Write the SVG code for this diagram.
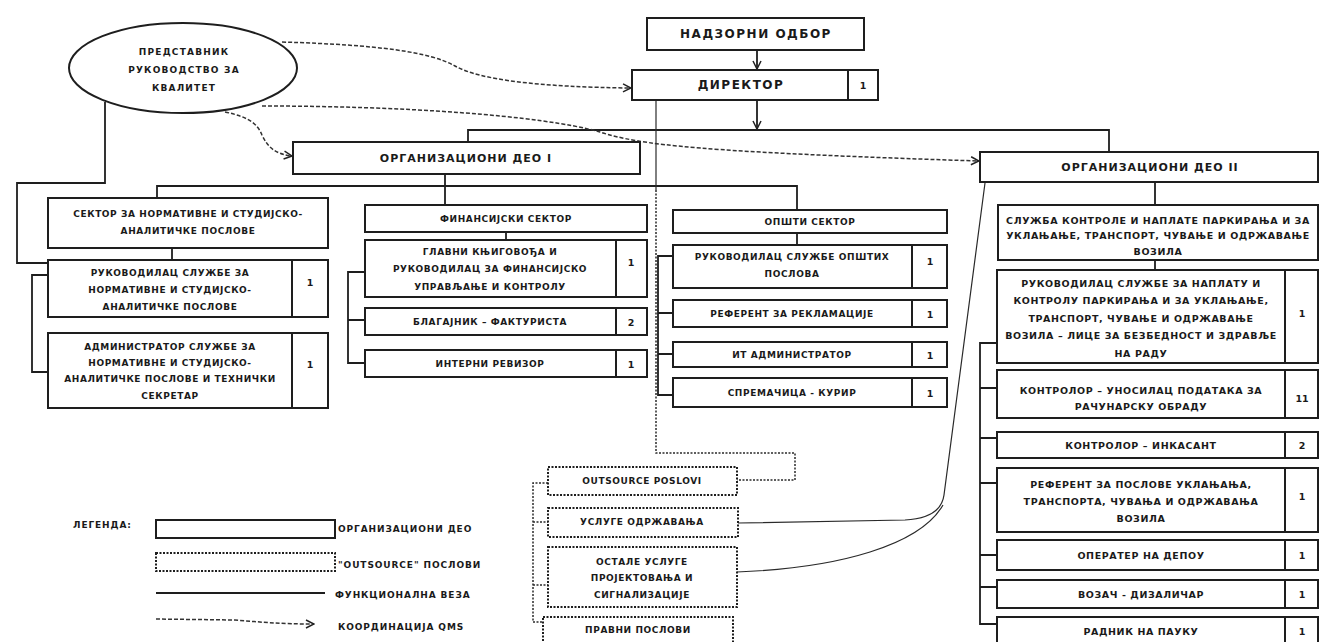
<svg xmlns="http://www.w3.org/2000/svg" width="1324" height="642" viewBox="0 0 1324 642">
<defs>
<style>
.box{fill:#fff;stroke:#1e1e1e;stroke-width:2}
.obox{fill:#fff;stroke:#1e1e1e;stroke-width:2;stroke-dasharray:2 1.5}
.ln{fill:none;stroke:#1e1e1e;stroke-width:1.8}
.thin{fill:none;stroke:#2a2a2a;stroke-width:1.2}
.dot{fill:none;stroke:#2a2a2a;stroke-width:1.5;stroke-dasharray:2 1.5}
.qms{fill:none;stroke:#333;stroke-width:1.5;stroke-dasharray:4 2;marker-end:url(#arr)}
.div{stroke:#1e1e1e;stroke-width:2}
text{font-family:"DejaVu Sans","Liberation Sans",sans-serif;font-weight:bold;fill:#1a1a1a;text-anchor:middle;dominant-baseline:central}
.h{font-size:11px;letter-spacing:1px}
.hb{font-size:12px;letter-spacing:1.5px}
.t{font-size:9px;letter-spacing:0.6px}
.te{font-size:9px;letter-spacing:1.2px}
.tr{font-size:9.5px;letter-spacing:0.6px}
.n{font-size:9.5px}
.lg{font-size:9px;letter-spacing:0.9px;text-anchor:start}
</style>
<marker id="arr" viewBox="0 0 10 10" refX="9" refY="5" markerWidth="10" markerHeight="10" markerUnits="userSpaceOnUse" orient="auto">
<path d="M1,1 L9,5 L1,9" fill="none" stroke="#222" stroke-width="1.5"/>
</marker>
</defs>
<rect width="1324" height="642" fill="#fff"/>

<g id="connectors">
<path class="ln" d="M757,50 V69" marker-end="url(#arr)"/>
<path class="ln" d="M757,100 V129" marker-end="url(#arr)"/>
<path class="ln" d="M468,142 V130 H1109 V152"/>
<path class="ln" d="M105,102 V183 H17 V263 H48"/>
<path class="ln" d="M157,198 V186 H797 V210"/>
<path class="ln" d="M445,174 V205"/>
<path class="ln" d="M172,248 V260"/>
<path class="ln" d="M48,275 H32 V372 H48"/>
<path class="ln" d="M506,232 V240"/>
<path class="ln" d="M365,272 H348 V363 H365 M348,320 H365"/>
<path class="ln" d="M797,233 V245"/>
<path class="ln" d="M673,256 H658 V395 H673 M658,313 H673 M658,354 H673"/>
<path class="ln" d="M1155,182 V205 M1155,260 V270"/>
<path class="ln" d="M997,343 H980 V624 H997 M980,388 H997 M980,438 H997 M980,483 H997 M980,555 H997 M980,587 H997"/>
<path class="thin" d="M656,100 V190"/>
<path class="dot" d="M656,190 V453 H795 V480 H737"/>
<path class="dot" d="M548,483 H533 V622 H543 M533,522 H548 M533,585 H548"/>
<path class="thin" d="M985,183 L944,495 Q941,518 905,520 L738,523"/>
<path class="thin" d="M737,572 C840,568 920,545 943,505"/>
<path class="qms" d="M282,42 C380,45 430,52 455,66 C480,80 540,87 631,88"/>
<path class="qms" d="M262,106 C400,106 540,115 600,132 C640,145 700,152 979,161"/>
<path class="qms" d="M225,112 C250,117 258,125 262,135 C268,148 276,154 292,156"/>
</g>

<g id="predstavnik">
<ellipse cx="183" cy="68" rx="114" ry="45" fill="#fff" stroke="#1e1e1e" stroke-width="2"/>
<text class="te" x="184" y="52">ПРЕДСТАВНИК</text>
<text class="te" x="184" y="70">РУКОВОДСТВО ЗА</text>
<text class="te" x="184" y="88">КВАЛИТЕТ</text>
</g>

<g id="nadzorni-odbor">
<rect class="box" x="647" y="18" width="217" height="32"/>
<text class="hb" x="756" y="34">НАДЗОРНИ ОДБОР</text>
</g>

<g id="direktor">
<rect class="box" x="632" y="70" width="246" height="30"/>
<line class="div" x1="848" y1="70" x2="848" y2="100"/>
<text class="hb" x="741" y="85">ДИРЕКТОР</text>
<text class="n" x="863" y="85">1</text>
</g>

<g id="org-deo-1">
<rect class="box" x="293" y="142" width="347" height="32"/>
<text class="h" x="466" y="158">ОРГАНИЗАЦИОНИ ДЕО I</text>
</g>

<g id="org-deo-2">
<rect class="box" x="980" y="152" width="338" height="30"/>
<text class="h" x="1150" y="167">ОРГАНИЗАЦИОНИ ДЕО II</text>
</g>

<g id="sektor-normativne">
<rect class="box" x="48" y="198" width="280" height="50"/>
<text class="t" x="188" y="214">СЕКТОР ЗА НОРМАТИВНЕ И СТУДИЈСКО-</text>
<text class="t" x="188" y="231">АНАЛИТИЧКЕ ПОСЛОВЕ</text>
</g>

<g id="rukovodilac-normativne">
<rect class="box" x="48" y="260" width="280" height="57"/>
<line class="div" x1="292" y1="260" x2="292" y2="317"/>
<text class="t" x="170" y="273">РУКОВОДИЛАЦ СЛУЖБЕ ЗА</text>
<text class="t" x="170" y="290">НОРМАТИВНЕ И СТУДИЈСКО-</text>
<text class="t" x="170" y="307">АНАЛИТИЧКЕ ПОСЛОВЕ</text>
<text class="n" x="310" y="282">1</text>
</g>

<g id="administrator-normativne">
<rect class="box" x="48" y="333" width="280" height="75"/>
<line class="div" x1="292" y1="333" x2="292" y2="408"/>
<text class="t" x="170" y="347">АДМИНИСТРАТОР СЛУЖБЕ ЗА</text>
<text class="t" x="170" y="363">НОРМАТИВНЕ И СТУДИЈСКО-</text>
<text class="t" x="170" y="379">АНАЛИТИЧКЕ ПОСЛОВЕ И ТЕХНИЧКИ</text>
<text class="t" x="170" y="396">СЕКРЕТАР</text>
<text class="n" x="310" y="364">1</text>
</g>

<g id="finansijski-sektor">
<rect class="box" x="365" y="205" width="282" height="27"/>
<text class="t" x="506" y="219">ФИНАНСИЈСКИ СЕКТОР</text>
</g>

<g id="glavni-knjigovodja">
<rect class="box" x="365" y="240" width="282" height="57"/>
<line class="div" x1="616" y1="240" x2="616" y2="297"/>
<text class="t" x="490" y="252">ГЛАВНИ КЊИГОВОЂА И</text>
<text class="t" x="490" y="269">РУКОВОДИЛАЦ ЗА ФИНАНСИЈСКО</text>
<text class="t" x="490" y="287">УПРАВЉАЊЕ И КОНТРОЛУ</text>
<text class="n" x="631" y="262">1</text>
</g>

<g id="blagajnik">
<rect class="box" x="365" y="308" width="282" height="27"/>
<line class="div" x1="616" y1="308" x2="616" y2="335"/>
<text class="t" x="490" y="322">БЛАГАЈНИК – ФАКТУРИСТА</text>
<text class="n" x="631" y="322">2</text>
</g>

<g id="interni-revizor">
<rect class="box" x="365" y="350" width="282" height="27"/>
<line class="div" x1="616" y1="350" x2="616" y2="377"/>
<text class="t" x="490" y="364">ИНТЕРНИ РЕВИЗОР</text>
<text class="n" x="631" y="364">1</text>
</g>

<g id="opsti-sektor">
<rect class="box" x="673" y="210" width="274" height="23"/>
<text class="t" x="810" y="222">ОПШТИ СЕКТОР</text>
</g>

<g id="rukovodilac-opstih">
<rect class="box" x="673" y="245" width="274" height="43"/>
<line class="div" x1="912" y1="245" x2="912" y2="288"/>
<text class="t" x="792" y="257">РУКОВОДИЛАЦ СЛУЖБЕ ОПШТИХ</text>
<text class="t" x="792" y="274">ПОСЛОВА</text>
<text class="n" x="930" y="261">1</text>
</g>

<g id="referent-reklamacije">
<rect class="box" x="673" y="300" width="274" height="27"/>
<line class="div" x1="912" y1="300" x2="912" y2="327"/>
<text class="t" x="792" y="314">РЕФЕРЕНТ ЗА РЕКЛАМАЦИЈЕ</text>
<text class="n" x="930" y="314">1</text>
</g>

<g id="it-administrator">
<rect class="box" x="673" y="342" width="274" height="25"/>
<line class="div" x1="912" y1="342" x2="912" y2="367"/>
<text class="t" x="792" y="355">ИТ АДМИНИСТРАТОР</text>
<text class="n" x="930" y="355">1</text>
</g>

<g id="spremacica">
<rect class="box" x="673" y="378" width="274" height="29"/>
<line class="div" x1="912" y1="378" x2="912" y2="407"/>
<text class="t" x="792" y="393">СПРЕМАЧИЦА - КУРИР</text>
<text class="n" x="930" y="393">1</text>
</g>

<g id="sluzba-kontrole">
<rect class="box" x="998" y="205" width="320" height="55"/>
<text class="tr" x="1158" y="220">СЛУЖБА КОНТРОЛЕ И НАПЛАТЕ ПАРКИРАЊА И ЗА</text>
<text class="tr" x="1158" y="235">УКЛАЊАЊЕ, ТРАНСПОРТ, ЧУВАЊЕ И ОДРЖАВАЊЕ</text>
<text class="tr" x="1158" y="251">ВОЗИЛА</text>
</g>

<g id="rukovodilac-sluzbe">
<rect class="box" x="997" y="270" width="321" height="93"/>
<line class="div" x1="1285" y1="270" x2="1285" y2="363"/>
<text class="tr" x="1141" y="283">РУКОВОДИЛАЦ СЛУЖБЕ ЗА НАПЛАТУ И</text>
<text class="tr" x="1141" y="300">КОНТРОЛУ ПАРКИРАЊА И ЗА УКЛАЊАЊЕ,</text>
<text class="tr" x="1141" y="318">ТРАНСПОРТ, ЧУВАЊЕ И ОДРЖАВАЊЕ</text>
<text class="tr" x="1141" y="335">ВОЗИЛА – ЛИЦЕ ЗА БЕЗБЕДНОСТ И ЗДРАВЉЕ</text>
<text class="tr" x="1141" y="353">НА РАДУ</text>
<text class="n" x="1302" y="313">1</text>
</g>

<g id="kontrolor-unosilac">
<rect class="box" x="997" y="370" width="321" height="48"/>
<line class="div" x1="1285" y1="370" x2="1285" y2="418"/>
<text class="tr" x="1141" y="390">КОНТРОЛОР – УНОСИЛАЦ ПОДАТАКА ЗА</text>
<text class="tr" x="1141" y="406">РАЧУНАРСКУ ОБРАДУ</text>
<text class="n" x="1302" y="398">11</text>
</g>

<g id="kontrolor-inkasant">
<rect class="box" x="997" y="432" width="321" height="26"/>
<line class="div" x1="1285" y1="432" x2="1285" y2="458"/>
<text class="tr" x="1141" y="445">КОНТРОЛОР – ИНКАСАНТ</text>
<text class="n" x="1302" y="445">2</text>
</g>

<g id="referent-uklanjanja">
<rect class="box" x="997" y="468" width="321" height="64"/>
<line class="div" x1="1285" y1="468" x2="1285" y2="532"/>
<text class="tr" x="1141" y="484">РЕФЕРЕНТ ЗА ПОСЛОВЕ УКЛАЊАЊА,</text>
<text class="tr" x="1141" y="501">ТРАНСПОРТА, ЧУВАЊА И ОДРЖАВАЊА</text>
<text class="tr" x="1141" y="518">ВОЗИЛА</text>
<text class="n" x="1302" y="496">1</text>
</g>

<g id="operater">
<rect class="box" x="997" y="540" width="321" height="30"/>
<line class="div" x1="1285" y1="540" x2="1285" y2="570"/>
<text class="tr" x="1141" y="555">ОПЕРАТЕР НА ДЕПОУ</text>
<text class="n" x="1302" y="555">1</text>
</g>

<g id="vozac">
<rect class="box" x="997" y="580" width="321" height="28"/>
<line class="div" x1="1285" y1="580" x2="1285" y2="608"/>
<text class="tr" x="1141" y="594">ВОЗАЧ - ДИЗАЛИЧАР</text>
<text class="n" x="1302" y="594">1</text>
</g>

<g id="radnik">
<rect class="box" x="997" y="617" width="321" height="32"/>
<line class="div" x1="1285" y1="617" x2="1285" y2="649"/>
<text class="tr" x="1141" y="631">РАДНИК НА ПАУКУ</text>
<text class="n" x="1302" y="631">1</text>
</g>

<g id="outsource-poslovi">
<rect class="obox" x="548" y="467" width="189" height="28"/>
<text class="t" x="642" y="481">OUTSOURCE POSLOVI</text>
</g>

<g id="usluge-odrzavanja">
<rect class="obox" x="548" y="508" width="190" height="29"/>
<text class="t" x="642" y="522">УСЛУГЕ ОДРЖАВАЊА</text>
</g>

<g id="ostale-usluge">
<rect class="obox" x="548" y="547" width="189" height="60"/>
<text class="t" x="642" y="562">ОСТАЛЕ УСЛУГЕ</text>
<text class="t" x="642" y="578">ПРОЈЕКТОВАЊА И</text>
<text class="t" x="642" y="595">СИГНАЛИЗАЦИЈЕ</text>
</g>

<g id="pravni-poslovi">
<rect class="obox" x="543" y="617" width="190" height="32"/>
<text class="t" x="638" y="630">ПРАВНИ ПОСЛОВИ</text>
</g>

<g id="legenda">
<text class="lg" x="73" y="525">ЛЕГЕНДА:</text>
<rect class="box" x="156" y="520" width="179" height="18"/>
<text class="lg" x="338" y="529">ОРГАНИЗАЦИОНИ ДЕО</text>
<rect class="obox" x="156" y="553" width="179" height="18"/>
<text class="lg" x="338" y="565">"OUTSOURCE" ПОСЛОВИ</text>
<line class="ln" x1="156" y1="593" x2="325" y2="593"/>
<text class="lg" x="335" y="595">ФУНКЦИОНАЛНА ВЕЗА</text>
<path class="qms" d="M156,619 L235,620 C260,622 280,624 314,624"/>
<text class="lg" x="338" y="627">КООРДИНАЦИЈА QMS</text>
</g>
</svg>
